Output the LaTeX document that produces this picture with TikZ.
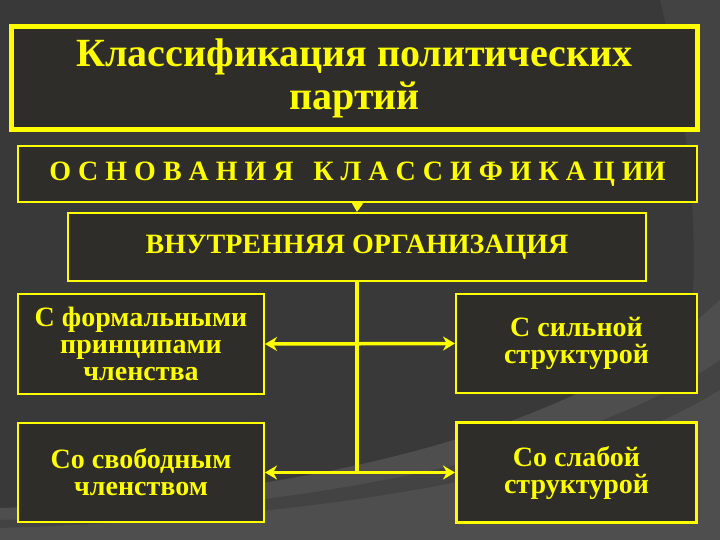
\documentclass[tikz,border=0pt]{standalone}
\usepackage{fontspec}
\setmainfont{Liberation Serif}
\usetikzlibrary{arrows.meta}
\definecolor{bgdark}{HTML}{393939}
\definecolor{bglight}{HTML}{4E4E4E}
\definecolor{bgmid}{HTML}{434343}
\definecolor{boxfill}{HTML}{2E2D2A}
\definecolor{ylw}{HTML}{FFFF00}
\tikzset{
  box/.style={draw=ylw, fill=boxfill, line width=2pt, text=ylw, font=\bfseries,
    align=center, inner sep=0pt, anchor=center},
  small/.style={font=\bfseries\fontsize{28}{27}\selectfont},
  conn/.style={draw=ylw, line width=3.5pt},
  dbl/.style={{Stealth[length=12pt,width=14pt]}-{Stealth[length=12pt,width=14pt]}},
}
\begin{document}
\begin{tikzpicture}[x=1pt,y=-1pt]
\useasboundingbox (0,0) rectangle (720,540);
\fill[bgdark] (0,0) rectangle (720,540);
\fill[bgmid] (660,0) .. controls (690,120) and (700,240) .. (690,330) -- (720,330) -- (720,0) -- cycle;
\fill[bglight] (0,508) .. controls (250,498) and (560,450) .. (720,300) -- (720,540) -- (0,540) -- cycle;
\fill[bgmid] (0,520) .. controls (250,512) and (560,470) .. (720,360) -- (720,540) -- (0,540) -- cycle;
\fill[bglight] (0,528) .. controls (250,520) and (560,490) .. (720,390) -- (720,540) -- (0,540) -- cycle;

\node[box, line width=5pt, minimum width=686pt, minimum height=103pt,
  font=\bfseries\fontsize{40}{43}\selectfont] (title) at (354.5,78)
  {Классификация политических\\партий};
\node[box, minimum width=679pt, minimum height=56pt,
  font=\bfseries\fontsize{28}{30}\selectfont] (osn) at (357.5,174)
  {О~С~Н~О~В~А~Н~И~Я\hspace{0.7em}К~Л~А~С~С~И~Ф~И~К~А~Ц~ИИ};
\node[box, minimum width=578pt, minimum height=68pt,
  font=\bfseries\fontsize{28}{30}\selectfont] (org) at (357,247)
  {ВНУТРЕННЯЯ ОРГАНИЗАЦИЯ};
\node[box, small, minimum width=246pt, minimum height=100pt] (lt) at (141,344)
  {С формальными\\принципами\\членства};
\node[box, small, minimum width=241pt, minimum height=99pt] (rt) at (576.5,343.5)
  {С сильной\\структурой};
\node[box, small, minimum width=246pt, minimum height=99pt] (lb) at (141,472.5)
  {Со свободным\\членством};
\node[box, small, line width=3pt, minimum width=240pt, minimum height=100pt] (rb) at (576.5,472.5)
  {Со слабой\\структурой};

\draw[conn, line width=2pt, -{Triangle[length=9pt,width=11pt]}] (osn.south) -- (org.north);
\coordinate (vb) at (org.south |- lb.east);
\draw[conn] (org.south) -- (vb);
\draw[conn, dbl] (lt.east) -- (rt.west);
\draw[conn, dbl] (lb.east) -- (rb.west);
\end{tikzpicture}
\end{document}
